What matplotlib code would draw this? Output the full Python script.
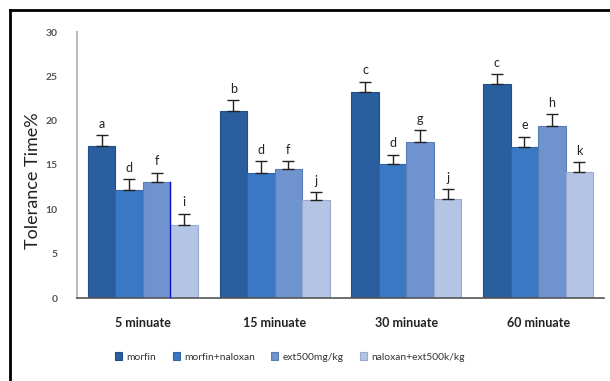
import numpy as np
import matplotlib
matplotlib.use("Agg")
import matplotlib.pyplot as plt
from matplotlib.lines import Line2D

plt.rcParams["font.family"] = ["Lato", "DejaVu Sans"]

# ── data ─────────────────────────────────────────────────────────────────────
groups = ["5 minuate", "15 minuate", "30 minuate", "60 minuate"]
series = ["morfin", "morfin+naloxan", "ext500mg/kg", "naloxan+ext500k/kg"]

morfin = [17.1, 21.1, 23.2, 24.1]
morfin_naloxan = [12.2, 14.05, 15.1, 17.0]
ext500 = [13.1, 14.5, 17.6, 19.4]
naloxan_ext = [8.2, 11.0, 11.2, 14.2]

err_morfin = [1.3, 1.2, 1.2, 1.15]
err_morfin_naloxan = [1.2, 1.4, 1.05, 1.2]
err_ext500 = [1.05, 0.9, 1.3, 1.3]
err_naloxan_ext = [1.3, 0.9, 1.1, 1.1]

letters_morfin = ["a", "b", "c", "c"]
letters_morfin_naloxan = ["d", "d", "d", "e"]
letters_ext500 = ["f", "f", "g", "h"]
letters_naloxan_ext = ["i", "j", "j", "k"]

yticks = [0, 5, 10, 15, 20, 25, 30]

# ── style ────────────────────────────────────────────────────────────────────
colors = ["#2b5e9e", "#3a78c4", "#6e93cf", "#b3c4e4"]
edges = ["#234f86", "#2f66a8", "#5a7db4", "#98abcc"]

values = [morfin, morfin_naloxan, ext500, naloxan_ext]
errors = [err_morfin, err_morfin_naloxan, err_ext500, err_naloxan_ext]
letters = [letters_morfin, letters_morfin_naloxan, letters_ext500, letters_naloxan_ext]

fig = plt.figure(figsize=(6.1, 3.81), dpi=100)
ax = fig.add_axes([77 / 610, 1 - 298 / 381, 527 / 610, 266 / 381])

x = np.arange(len(groups))
width = 0.209

for i in range(4):
    pos = x + (i - 1.5) * width
    ax.bar(pos, values[i], width, color=colors[i], edgecolor=edges[i],
           linewidth=0.8, label=series[i], zorder=2)
    ax.errorbar(pos, values[i], yerr=[np.zeros(4), errors[i]], fmt="none",
                ecolor="#222222", elinewidth=1.0, capsize=4.5, capthick=1.0,
                zorder=3)
    for p, v, e, t in zip(pos, values[i], errors[i], letters[i]):
        ax.text(p, v + e + 0.6, t, ha="center", va="bottom",
                fontsize=9, color="#222222")

# stray blue line on the 5 minute group
edge_x = x[0] + 0.5 * width + width / 2
ax.plot([edge_x, edge_x], [0, ext500[0]], color="#1010d0", lw=1.0, zorder=4)

ax.set_xlim(-0.5, 3.5)
ax.set_ylim(0, 30)
ax.set_yticks(yticks)
ax.set_yticklabels([str(t) for t in yticks], fontsize=7.5, color="#555555",
                   fontweight="bold")
ax.tick_params(axis="y", length=0, pad=14)
ax.set_xticks(x)
ax.set_xticklabels(groups, fontsize=9, fontweight="bold", color="#222222")
ax.tick_params(axis="x", length=0, pad=14)

for s in ["top", "right"]:
    ax.spines[s].set_visible(False)
ax.spines["left"].set_color("#bbbbbb")
ax.spines["left"].set_linewidth(1.5)
ax.spines["bottom"].set_color("#555555")
ax.spines["bottom"].set_linewidth(1.2)

fig.text(33 / 610, 1 - 181 / 381, "Tolerance Time%", rotation=90,
         ha="center", va="center", fontsize=13, color="#222222")

ax.legend(loc="upper center", bbox_to_anchor=(0.404, -0.17), ncol=4,
          frameon=False, fontsize=7.4, handlelength=0.7, handleheight=0.7,
          handletextpad=0.4, columnspacing=1.6, labelcolor="#333333")

# frame around the figure (left and top visible)
fx, fy = 10 / 610, 1 - 10 / 381
fig.add_artist(Line2D([fx, fx], [0, fy], transform=fig.transFigure,
                      color="black", lw=2.0))
fig.add_artist(Line2D([fx, 1], [fy, fy], transform=fig.transFigure,
                      color="black", lw=2.0))

fig.savefig("out.png", dpi=100)
